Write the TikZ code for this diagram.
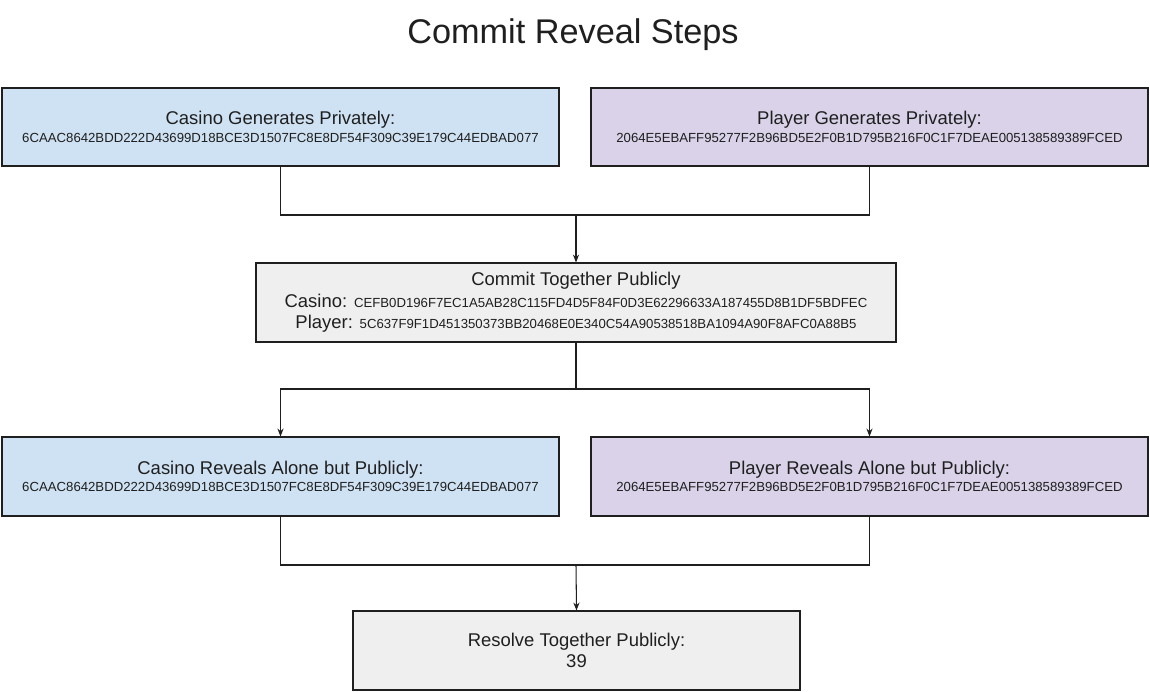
\documentclass[tikz,border=0pt]{standalone}
\usepackage{fontspec}
\setmainfont{Liberation Sans}
\usetikzlibrary{arrows.meta}
\definecolor{casinoblue}{HTML}{CFE2F3}
\definecolor{playerpurple}{HTML}{D9D2E9}
\definecolor{sharedgray}{HTML}{EFEFEF}
\definecolor{inkdark}{HTML}{1F1F1F}
\newcommand{\hdrfont}{\fontsize{10.5}{9.9}\selectfont}
\newcommand{\hexfont}{\fontsize{7.5}{9}\selectfont}
\tikzset{
  stepbox/.style={draw=inkdark, line width=0.6pt, text=inkdark, align=center,
    minimum width=11.14cm, minimum height=1.56cm, inner sep=0pt, font=\hdrfont},
  wire/.style={draw=inkdark, line width=0.6pt},
  tip/.style={-{Stealth[length=4.5pt,width=3.5pt]}}
}
\begin{document}
\begin{tikzpicture}[scale=1.0]
\useasboundingbox[fill=white] (0,0) rectangle (23,-13.84);
\node[text=inkdark,font=\fontsize{19.5}{22}\selectfont] (title) at (11.46,-0.69) {Commit Reveal Steps};
% private generation
\node[stepbox,fill=casinoblue] (cgen) at (5.61,-2.54)
  {Casino Generates Privately:\\{\hexfont 6CAAC8642BDD222D43699D18BCE3D1507FC8E8DF54F309C39E179C44EDBAD077}};
\node[stepbox,fill=playerpurple] (pgen) at (17.39,-2.54)
  {Player Generates Privately:\\{\hexfont 2064E5EBAFF95277F2B96BD5E2F0B1D795B216F0C1F7DEAE005138589389FCED}};
% commit
\node[stepbox,fill=sharedgray,minimum width=12.8cm,minimum height=1.58cm] (commit) at (11.52,-6.05)
  {Commit Together Publicly\\[2.4pt]
   Casino: {\hexfont CEFB0D196F7EC1A5AB28C115FD4D5F84F0D3E62296633A187455D8B1DF5BDFEC}\\[2.4pt]
   Player: {\hexfont 5C637F9F1D451350373BB20468E0E340C54A90538518BA1094A90F8AFC0A88B5}};
% reveal
\node[stepbox,fill=casinoblue,minimum height=1.58cm] (crev) at (5.61,-9.53)
  {Casino Reveals Alone but Publicly:\\{\hexfont 6CAAC8642BDD222D43699D18BCE3D1507FC8E8DF54F309C39E179C44EDBAD077}};
\node[stepbox,fill=playerpurple,minimum height=1.58cm] (prev) at (17.39,-9.53)
  {Player Reveals Alone but Publicly:\\{\hexfont 2064E5EBAFF95277F2B96BD5E2F0B1D795B216F0C1F7DEAE005138589389FCED}};
% resolve
\node[stepbox,fill=sharedgray,minimum width=8.94cm,minimum height=1.58cm] (resolve) at (11.53,-13.01)
  {Resolve Together Publicly:\\[2.3pt]39};
% connectors
\coordinate (j1) at (11.52,-4.30);
\coordinate (j2) at (11.52,-7.78);
\coordinate (j3) at (11.52,-11.30);
\draw[wire] (cgen.south) |- (j1) -| (pgen.south);
\draw[wire,tip] (j1) -- (commit.north);
\draw[wire] (commit.south) -- (j2);
\draw[wire,tip] (j2) -| (crev.north);
\draw[wire,tip] (j2) -| (prev.north);
\draw[wire] (crev.south) |- (j3) -| (prev.south);
\draw[wire,tip] (j3) -- (resolve.north);
\end{tikzpicture}
\end{document}
